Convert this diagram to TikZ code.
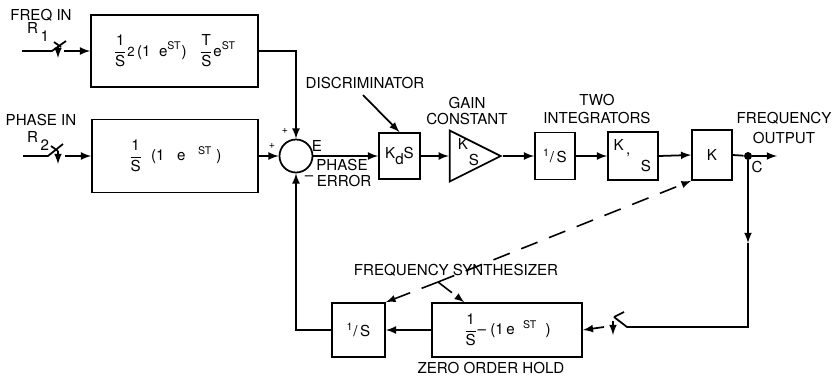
\documentclass[tikz,border=0pt]{standalone}
\usepackage{amsmath}
\usepackage{fontspec}
\setmainfont{TeX Gyre Heros}
\usepackage{tikz}
\usetikzlibrary{shapes.geometric, positioning}

\newcommand{\frc}[2]{$\dfrac{\text{#1}}{\text{#2}}$}

\tikzset{
  blk/.style={draw, line width=1pt, inner sep=1pt},
  sig/.style={line width=1pt},
  lbl/.style={inner sep=0pt},
  sgn/.style={inner sep=0pt, font=\fontsize{6}{6}\selectfont},
  ctl/.style={line width=0.9pt, dash pattern=on 10pt off 7pt},
}

\begin{document}
\begin{tikzpicture}[x=0.02cm, y=-0.02cm, >=latex, every node/.style={font=\fontsize{8.6}{9}\selectfont}]
    \useasboundingbox (0,0) rectangle (832,376);

    % Ingressi
    \node[lbl] (fin) at (41,15) {FREQ IN};
    \node[lbl] (r1) at (38,32) {R\raisebox{-5pt}{\,1}};
    \node[lbl] (pin) at (41,120) {PHASE IN};
    \node[lbl] (r2) at (38,141) {R\raisebox{-5pt}{\,2}};

    \coordinate (in1) at (22,51);
    \coordinate (sw1) at (52,51);
    \coordinate (sw1o) at (64,51);
    \draw[sig] (in1) -- (sw1) -- (66,41);
    \draw[sig] (54,42) -- (61,47);
    \draw[sig,->] (58,46) -- (58,58);

    \coordinate (in2) at (23,156);
    \coordinate (sw2) at (48,156);
    \coordinate (sw2o) at (65,156);
    \draw[sig] (in2) -- (sw2) -- (63,144);
    \draw[sig] (51,146) -- (58,151);
    \draw[sig,->] (58,151) -- (58,164);

    % Blocchi
    \node[blk, minimum width=3.34cm, minimum height=1.44cm] (frq) at (174.5,51)
        {\frc{1}{S}{\fontsize{7.5}{7}\selectfont 2}\,(1\ \ e\textsuperscript{ST})\ \ \ \frc{T}{S}e\textsuperscript{ST}};
    \node[blk, minimum width=3.32cm, minimum height=1.46cm] (phs) at (175,156)
        {\frc{1}{S}\ \ (1\ \ \ e\ \ \ \textsuperscript{ST}\ )};
    \node[draw, circle, line width=1pt, minimum size=0.66cm, inner sep=0pt] (sum) at (296,156) {};
    \node[blk, minimum width=0.82cm, minimum height=0.92cm] (disc) at (399.5,156) {K\raisebox{-3pt}{d}S};
    \node[draw, isosceles triangle, isosceles triangle stretches, line width=1pt,
          minimum width=1.02cm, minimum height=1.02cm, inner sep=0pt, anchor=apex] (gain) at (503,156) {};
    \node[lbl] (gk) at (463,144) {K};
    \node[lbl] (gs) at (474,160) {S};
    \node[blk, minimum width=0.8cm, minimum height=0.94cm] (int1) at (555,156) {\textsuperscript{1}/\,S};
    \node[blk, minimum width=1cm, minimum height=0.96cm] (int2) at (633,156) {};
    \node[lbl] (k1) at (622,148) {K\,\raisebox{-2pt}{,}};
    \node[lbl] (s1) at (646,166) {S};
    \node[blk, minimum width=0.8cm, minimum height=1cm] (kout) at (712,155) {K};
    \node[circle, fill, inner sep=1.6pt] (jc) at (748,156) {};
    \coordinate (out) at (777,156);

    \node[blk, minimum width=3cm, minimum height=1.08cm] (zoh) at (507,330)
        {\frc{1}{S}-- (1\,e\ \ \textsuperscript{ST}\ \ )};
    \node[blk, minimum width=1.06cm, minimum height=1.08cm] (int3) at (358.5,330) {\textsuperscript{1}/\,S};

    % Etichette
    \node[sgn] (pl1) at (285,131) {+};
    \node[sgn] (pl2) at (272,146) {+};
    \node[lbl] (ee) at (317,146) {E};
    \node[lbl] (mn) at (309,178) {--};
    \node[lbl] (ph) at (342,165) {PHASE};
    \node[lbl] (er) at (344,181) {ERROR};
    \node[lbl] (dl) at (365,83) {DISCRIMINATOR};
    \node[lbl] (ga) at (467,103) {GAIN};
    \node[lbl] (co) at (467,119) {CONSTANT};
    \node[lbl] (tw) at (597,100) {TWO};
    \node[lbl] (ig) at (597,118) {INTEGRATORS};
    \node[lbl] (fo) at (784,118) {FREQUENCY};
    \node[lbl] (op) at (784,138) {OUTPUT};
    \node[lbl] (cc) at (757,167) {C};
    \node[lbl] (fs) at (456,270) {FREQUENCY SYNTHESIZER};
    \node[lbl] (zh) at (491,368) {ZERO ORDER HOLD};

    % Collegamenti
    \draw[sig,->] (sw1o) -- (frq.west);
    \draw[sig,->] (sw2o) -- (phs.west);
    \draw[sig,->] (frq.east) -| (sum.north);
    \draw[sig,->] (phs.east) -- (sum.west);
    \draw[sig,->] (sum.east) -- (disc.west);
    \coordinate (dtl) at (363,95);
    \draw[sig,->] (dtl) -- (disc.north);
    \draw[sig,->] (disc.east) -- (gain.west);
    \draw[sig,->] (gain.apex) -- (int1.west);
    \draw[sig,->] (int1.east) -- (int2.west);
    \draw[sig,->] (int2.east) -- (kout.west);
    \draw[sig] (kout.east) -- (jc);
    \draw[sig,->] (jc) -- (out);

    % Anello
    \coordinate (mid) at (748,243);
    \coordinate (crn) at (748,327);
    \coordinate (sw3) at (627,327);
    \coordinate (sw3o) at (604,327);
    \draw[sig,->] (jc) -- (mid);
    \draw[sig] (mid) -- (crn) -- (sw3) -- (614,317);
    \draw[sig] (614,317) -- (624,312);
    \draw[sig,->] (613,321) -- (613,335);
    \draw[sig,->] (sw3o) -- (zoh.east);
    \draw[sig,->] (zoh.west) -- (int3.east);
    \draw[sig,->] (int3.west) -| (sum.south);

    % Sintetizzatore
    \coordinate (syn) at (438,282);
    \draw[ctl,->] (syn) -- (int3.north east);
    \draw[ctl,->] (syn) -- (kout.south west);
    \draw[ctl,->] (syn) -- ([xshift=0.66cm]zoh.north west);
\end{tikzpicture}
\end{document}
